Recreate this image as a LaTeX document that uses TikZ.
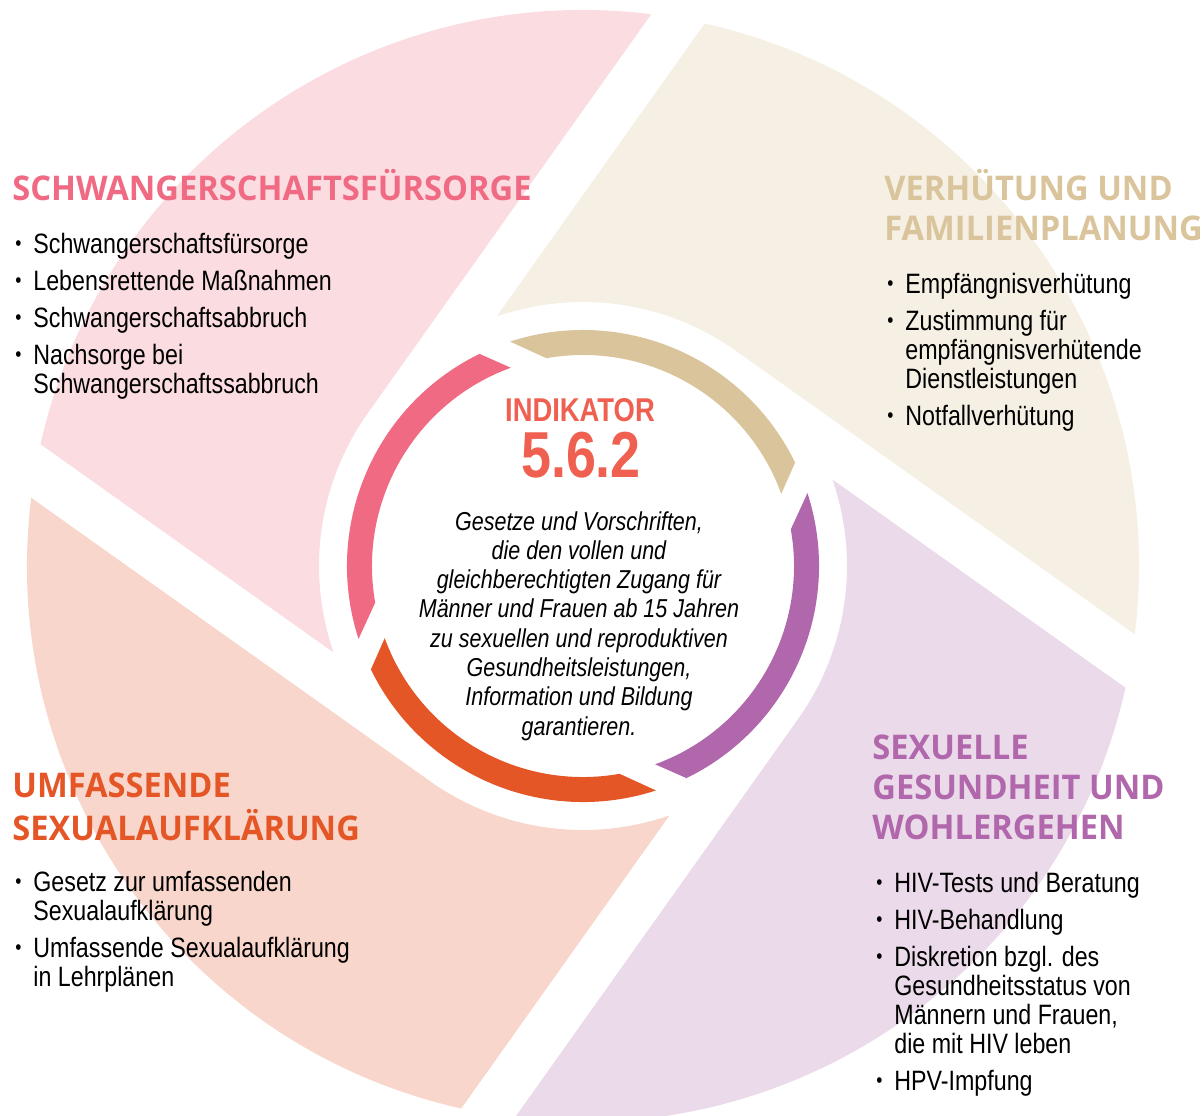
\documentclass[tikz,border=0pt]{standalone}
\usepackage{fontspec}
\setmainfont{Liberation Sans}[FakeStretch=0.83]
\newfontfamily\titlefont{Open Sans}[FakeStretch=0.96]
\definecolor{pinklight}{HTML}{FADCE1}
\definecolor{pinkdark}{HTML}{F06A84}
\definecolor{tanlight}{HTML}{F5EFE4}
\definecolor{tandark}{HTML}{DAC49B}
\definecolor{lilalight}{HTML}{EBDAEA}
\definecolor{liladark}{HTML}{B167AB}
\definecolor{orangelight}{HTML}{F8D6CB}
\definecolor{orangedark}{HTML}{E55627}
\definecolor{indikator}{HTML}{EF6050}
\newcommand{\pkt}{\makebox[9pt][l]{\raisebox{0.08em}{\scalebox{0.75}{\textbullet}}}}
\begin{document}
\begin{tikzpicture}[x=0.5pt,y=0.5pt,every node/.style={inner sep=0pt},
  titel/.style={anchor=base west,font=\titlefont\bfseries\fontsize{17}{20}\selectfont},
  liste/.style={anchor=base west,font=\fontsize{14}{14.5}\selectfont},]
%%
\useasboundingbox (-583,-549) rectangle (619,566);
\clip (-583,-549) rectangle (619,566);
% blades
\fill [pinklight] (144.6:264) -- (82.95:556) arc[start angle=82.95,end angle=167.35,radius=556] -- (199.12:264) arc[start angle=199.12,end angle=144.6,radius=264] -- cycle;
\fill [tanlight] (54.6:264) -- (-7.05:556) arc[start angle=-7.05,end angle=77.35,radius=556] -- (109.12:264) arc[start angle=109.12,end angle=54.6,radius=264] -- cycle;
\fill [lilalight] (-35.4:264) -- (-97.05:556) arc[start angle=-97.05,end angle=-12.65,radius=556] -- (19.12:264) arc[start angle=19.12,end angle=-35.4,radius=264] -- cycle;
\fill [orangelight] (-125.4:264) -- (-187.05:556) arc[start angle=-187.05,end angle=-102.65,radius=556] -- (-70.88:264) arc[start angle=-70.88,end angle=-125.4,radius=264] -- cycle;
% ring
\fill [pinkdark] (198:236) arc[start angle=198,end angle=116,radius=236] -- (110:211) arc[start angle=110,end angle=190,radius=211] -- cycle;
\fill [tandark] (108:236) arc[start angle=108,end angle=26,radius=236] -- (20:211) arc[start angle=20,end angle=100,radius=211] -- cycle;
\fill [liladark] (18:236) arc[start angle=18,end angle=-64,radius=236] -- (-70:211) arc[start angle=-70,end angle=10,radius=211] -- cycle;
\fill [orangedark] (288:236) arc[start angle=288,end angle=206,radius=236] -- (200:211) arc[start angle=200,end angle=280,radius=211] -- cycle;
%
\node (node_ind) at (-3,145) [anchor=base,text=indikator,font=\bfseries\fontsize{16.5}{16.5}\selectfont] {INDIKATOR};
\node (node_nr) at (-2,89) [anchor=base,text=indikator,font=\bfseries\fontsize{32.5}{32.5}\selectfont] {5.6.2};
\node (node_text) at (-4,36) [anchor=base,font=\itshape\fontsize{12.95}{14.65}\selectfont] {\begin{tabular}[t]{@{}c@{}}
  Gesetze und Vorschriften,\\ die den vollen und\\ gleichberechtigten Zugang für\\
  Männer und Frauen ab 15 Jahren\\ zu sexuellen und reproduktiven\\
  Gesundheitsleistungen,\\ Information und Bildung\\ garantieren.\end{tabular}};
%
\node (node_t_pink) at (-571,366) [titel,text=pinkdark] {SCHWANGERSCHAFTSFÜRSORGE};
\node (node_l_pink) at (-568,313) [liste] {\begin{tabular}[t]{@{}l@{}l@{}}
  \pkt & Schwangerschaftsfürsorge\\[4pt] \pkt & Lebensrettende Maßnahmen\\[4pt]
  \pkt & Schwangerschaftsabbruch\\[4pt] \pkt & Nachsorge bei\\ & Schwangerschaftssabbruch\end{tabular}};
\node (node_t_tan) at (301,366) [titel,text=tandark] {\begin{tabular}[t]{@{}l@{}}VERHÜTUNG UND\\ FAMILIENPLANUNG\end{tabular}};
\node (node_l_tan) at (304,273) [liste] {\begin{tabular}[t]{@{}l@{}l@{}}
  \pkt & Empfängnisverhütung\\[4pt] \pkt & Zustimmung für\\ & empfängnisverhütende\\ & Dienstleistungen\\[4pt]
  \pkt & Notfallverhütung\end{tabular}};
\node (node_t_lila) at (289,-193) [titel,text=liladark] {\begin{tabular}[t]{@{}l@{}}SEXUELLE\\ GESUNDHEIT UND\\ WOHLERGEHEN\end{tabular}};
\node (node_l_lila) at (293,-326) [liste] {\begin{tabular}[t]{@{}l@{}l@{}}
  \pkt & HIV-Tests und Beratung\\[4pt] \pkt & HIV-Behandlung\\[4pt]
  \pkt & Diskretion bzgl. des\\ & Gesundheitsstatus von\\ & Männern und Frauen,\\ & die mit HIV leben\\[4pt]
  \pkt & HPV-Impfung\end{tabular}};
\node (node_t_orange) at (-571,-231) [titel,text=orangedark] {\begin{tabular}[t]{@{}l@{}}UMFASSENDE\\ SEXUALAUFKLÄRUNG\end{tabular}};
\node (node_l_orange) at (-568,-325) [liste] {\begin{tabular}[t]{@{}l@{}l@{}}
  \pkt & Gesetz zur umfassenden\\ & Sexualaufklärung\\[4pt]
  \pkt & Umfassende Sexualaufklärung\\ & in Lehrplänen\end{tabular}};
%
\end{tikzpicture}
\end{document}
